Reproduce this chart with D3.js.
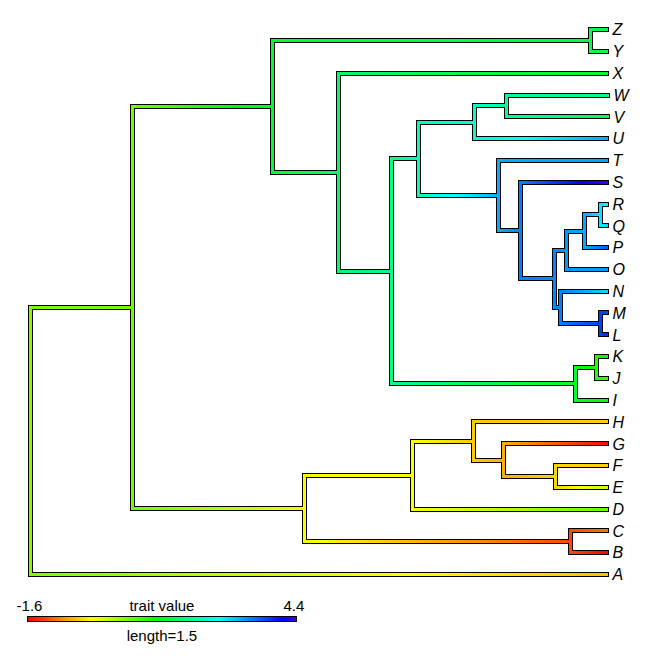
<!DOCTYPE html>
<html><head><meta charset="utf-8">
<script src="https://cdn.jsdelivr.net/npm/d3@7"></script>
<style>body{margin:0;background:#fff}</style>
</head><body><svg id="c" width="672" height="671"></svg>
<script>
// ---- tree edges (parent -> child, branch length) ----
const edgeParent = ["root","root","n1","n1","n2","n2","zy","zy","n3","n3","n4","n4","n5","n5","wvu","wvu","wv","wv","tl","tl","sl","sl","na","na","rqpo","rqpo","rqp","rqp","rq","rq","nml","nml","ml","ml","kji","kji","kj","kj","n6","n6","n7","n7","hgfe","hgfe","gfe","gfe","fe","fe","cb","cb"];
const edgeChild  = ["n1","A","n2","n6","zy","n3","Z","Y","X","n4","n5","kji","wvu","tl","wv","U","W","V","T","sl","S","na","rqpo","nml","rqp","O","rq","P","R","Q","N","ml","M","L","kj","I","K","J","n7","cb","hgfe","D","H","gfe","G","fe","F","E","C","B"];
const edgeLength = [0.571,3.206,0.779,0.957,1.767,0.363,0.089,0.089,1.493,0.297,0.152,1.022,0.311,0.444,0.178,0.733,0.556,0.556,0.6,0.122,0.478,0.189,0.067,0.033,0.1,0.222,0.089,0.122,0.033,0.033,0.256,0.222,0.033,0.033,0.118,0.174,0.056,0.056,0.596,1.478,0.341,1.082,0.741,0.167,0.574,0.289,0.285,0.285,0.2,0.2];

// ---- trait values at nodes and tips ----
const nodeNames  = ["root","n1","n2","zy","Z","Y","n3","X","n4","n5","wvu","wv","W","V","U","tl","T","sl","S","na","rqpo","rqp","rq","R","Q","P","O","nml","N","ml","M","L","kji","kj","K","J","I","n6","n7","hgfe","H","gfe","G","fe","F","E","D","cb","C","B","A"];
const nodeValues = [0.55,0.65,1.5,1.65,1.72,1.68,1.85,1.5,2.0,2.3,2.4,2.1,1.95,1.75,3.15,3.15,3.2,3.4,4.4,3.35,3.25,3.15,2.8,2.7,2.88,3.6,3.25,3.4,2.9,3.75,3.73,3.85,1.45,1.07,1.5,0.97,1.3,-0.12,-0.15,-0.47,-0.45,-0.62,-1.55,-0.42,-0.43,0.11,0.67,-1.2,-0.95,-1.6,-0.53];

const legendLims = [-1.6, 4.4];
const legendTitle = "trait value";
const scaleLength = 1.5;

// ---- build ----
const svg = d3.select("#c");
svg.append("rect").attr("width",672).attr("height",671).attr("fill","#fff");
const defs = svg.append("defs");

const valueOf = new Map(nodeNames.map((n,i)=>[n,nodeValues[i]]));
const table = [{id:"root",parentId:null,len:0}].concat(edgeChild.map((c,i)=>({id:c,parentId:edgeParent[i],len:edgeLength[i]})));
const root = d3.stratify().id(d=>d.id).parentId(d=>d.parentId)(table);
root.eachBefore(n=>{ n.dl = n.parent ? n.parent.dl + n.data.len : 0; });
const leaves = root.leaves();

const xs0 = d3.scaleLinear().domain([0, d3.max(leaves,d=>d.dl)]).range([30,607]);
const ys0 = d3.scaleLinear().domain([0, leaves.length-1]).range([29.7,574.5]);
const snap = v => Math.round(v-0.5)+0.5;
const xs = v => snap(xs0(v));
leaves.forEach((l,i)=>{ l.yp = ys0(i); });
root.eachAfter(n=>{ if(n.children) n.yp = (n.children[0].yp + n.children[n.children.length-1].yp)/2; });
nodes0 = root.descendants();
nodes0.forEach(n=>{ n.ys = snap(n.yp); });

const hueScale = d3.scaleLinear().domain(legendLims).range([0,252]).clamp(true);
const col = v => d3.hsl(hueScale(v),1,0.5).formatHex();

const nodes = root.descendants();
const internals = nodes.filter(n=>n.children);
const nonRoot = nodes.filter(n=>n.parent);

// gradients for branches
nonRoot.forEach((n,i)=>{
  const pv = valueOf.get(n.parent.id), cv = valueOf.get(n.id);
  const g = defs.append("linearGradient").attr("id","g"+i).attr("gradientUnits","userSpaceOnUse")
    .attr("x1",xs(n.parent.dl)).attr("x2",xs(n.dl)).attr("y1",n.ys).attr("y2",n.ys);
  const steps = 24;
  d3.range(steps+1).forEach(k=>{
    g.append("stop").attr("offset",k/steps).attr("stop-color",col(pv+(cv-pv)*k/steps));
  });
  n.gid = "g"+i;
});

function drawLayer(width, colored){
  const gL = svg.append("g").attr("stroke-linecap","square").attr("fill","none")
    .attr("stroke-width",width).attr("shape-rendering","crispEdges");
  internals.forEach(n=>{
    gL.append("line").attr("x1",xs(n.dl)).attr("x2",xs(n.dl))
      .attr("y1",n.children[0].ys).attr("y2",n.children[n.children.length-1].ys)
      .attr("stroke", colored ? col(valueOf.get(n.id)) : "#000");
  });
  nonRoot.forEach(n=>{
    gL.append("line").attr("x1",xs(n.parent.dl)).attr("x2",xs(n.dl))
      .attr("y1",n.ys).attr("y2",n.ys)
      .attr("stroke", colored ? "url(#"+n.gid+")" : "#000");
  });
}
drawLayer(5,false);
drawLayer(3,true);

// tip labels
svg.append("g").selectAll("text").data(leaves).join("text")
  .attr("x",d=>xs(d.dl)+6).attr("y",d=>d.yp).attr("dy","0.36em")
  .attr("font-family","'Liberation Sans',Arial,sans-serif").attr("font-size",16)
  .attr("font-style","italic").attr("fill","#000").text(d=>d.id);

// legend colour bar
const barLen = xs0(scaleLength)-xs0(0);
const bx = 27, by = 619;
const lg = defs.append("linearGradient").attr("id","legGrad");
d3.range(0,61).forEach(k=>{
  lg.append("stop").attr("offset",k/60).attr("stop-color",col(legendLims[0]+(legendLims[1]-legendLims[0])*k/60));
});
svg.append("rect").attr("x",bx).attr("y",by-3).attr("width",barLen).attr("height",6).attr("fill","#000").attr("shape-rendering","crispEdges");
svg.append("rect").attr("x",bx+1).attr("y",by-2).attr("width",barLen-2).attr("height",4).attr("fill","url(#legGrad)").attr("shape-rendering","crispEdges");

const lf = "'Liberation Sans',Arial,sans-serif";
const legText = (x,y,t)=>svg.append("text").attr("x",x).attr("y",y).attr("text-anchor","middle")
  .attr("font-family",lf).attr("font-size",15).attr("fill","#000").text(t);
legText(bx+2.5, 610.5, legendLims[0].toFixed(1));
legText(bx+barLen-3, 610.5, legendLims[1].toFixed(1));
legText(bx+barLen/2, 610.5, legendTitle);
legText(bx+barLen/2, 640.5, "length=" + scaleLength);
</script></body></html>
